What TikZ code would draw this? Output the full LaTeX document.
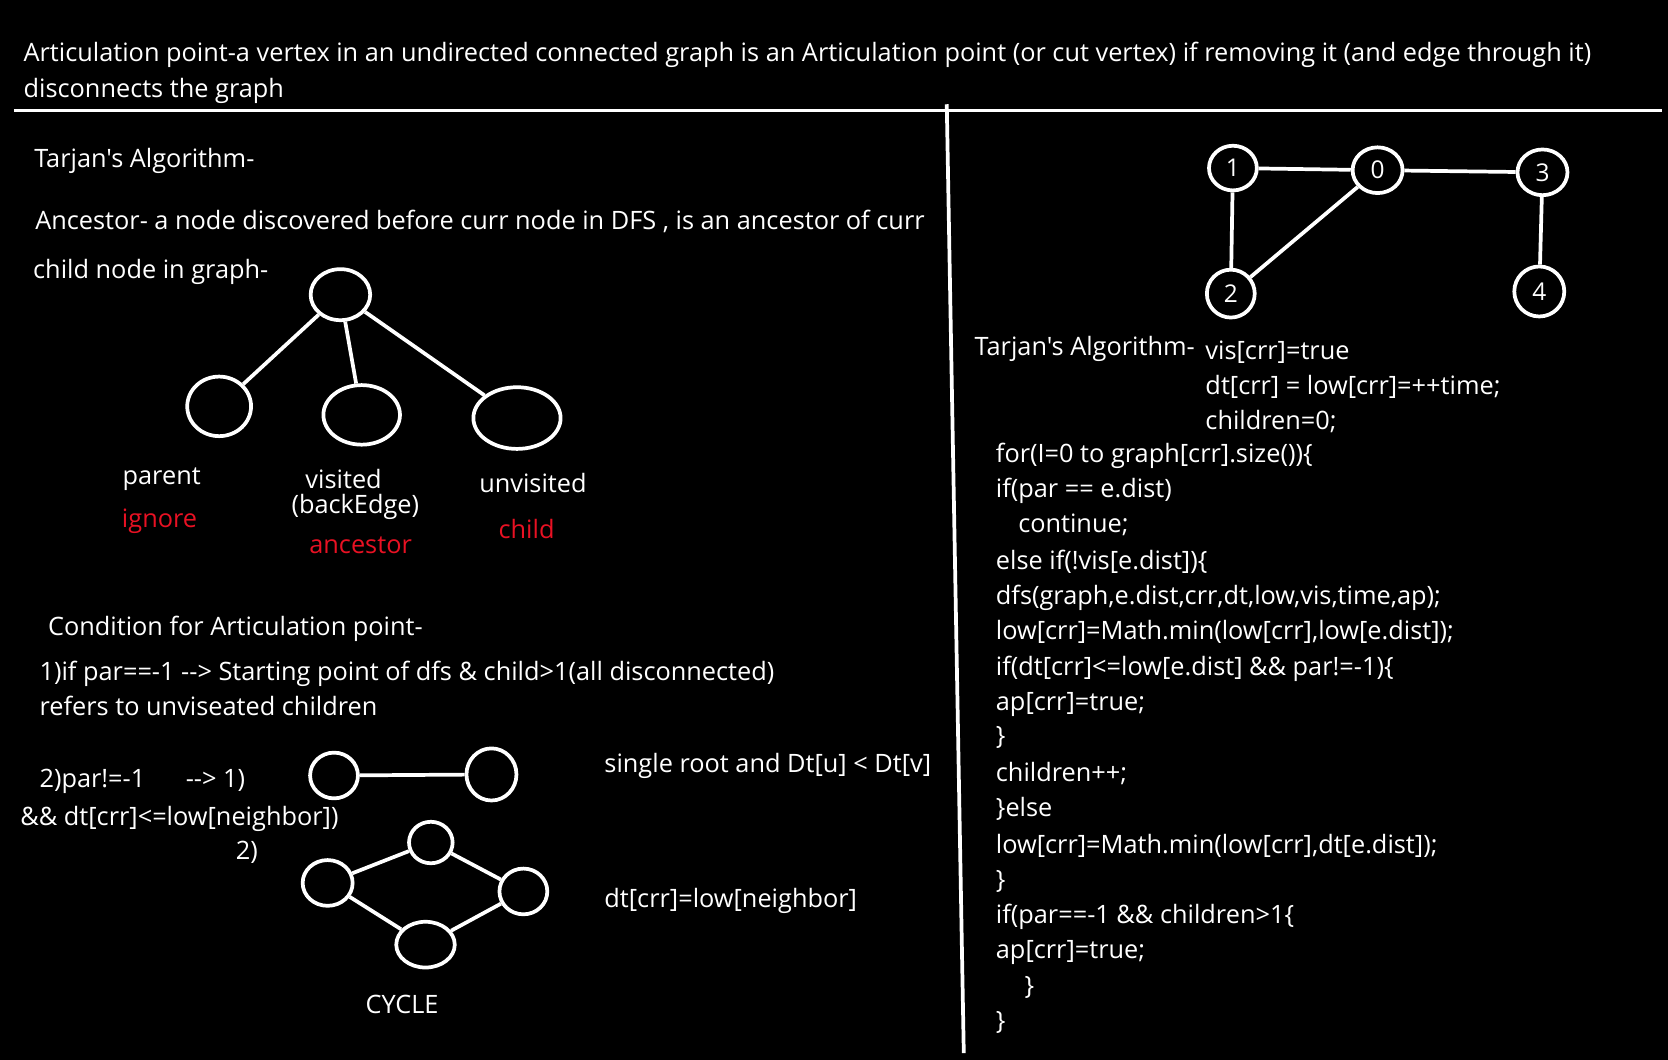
\documentclass[tikz,border=0pt]{standalone}
\usepackage{fontspec}
\setmainfont{Open Sans}[Ligatures=TeXOff]
\usetikzlibrary{shapes.geometric}
\definecolor{notered}{RGB}{232,17,35}

\begin{document}
\begin{tikzpicture}[x=1pt,y=-1pt,
	txt/.style={anchor=west,inner sep=0pt,text=white,font=\fontsize{23.8}{28}\selectfont,text height=0.3em,text depth=0.3em,yshift=-8pt},
	txtc/.style={txt,anchor=center},
	vtx/.style={draw=white,line width=3.5pt,ellipse,inner sep=0pt,text=white,font=\fontsize{23}{27}\selectfont},
	edge/.style={draw=white,line width=3.5pt}]
	\fill[black] (0,0) rectangle (1568,996);
	\useasboundingbox (0,0) rectangle (1568,996);
	
	% dividers
	\coordinate (hl) at (13,104);
	\coordinate (hr) at (1562,104);
	\coordinate (vt) at (890,98);
	\coordinate (vb) at (906,990);
	\draw[edge] (hl) -- (hr);
	\draw[edge] (vt) -- (vb);
	
	\node[txt] (title1) at (22,50) {Articulation point-a vertex in an undirected connected graph is an Articulation point (or cut vertex) if removing it (and edge through it)};
	\node[txt] (title2) at (22,84) {disconnects the graph};
	
	% left panel
	\node[txt] (tarjanL) at (32,149) {Tarjan's Algorithm-};
	\node[txt] (ancestor) at (33,208) {Ancestor- a node discovered before curr node in DFS , is an ancestor of curr};
	\node[txt] (childnode) at (31,254) {child node in graph-};
	
	\node[vtx,minimum width=56pt,minimum height=48pt] (root) at (320,277) {};
	\node[vtx,minimum width=60pt,minimum height=56pt] (par) at (206,382) {};
	\node[vtx,minimum width=72pt,minimum height=56pt] (vis) at (340,390) {};
	\node[vtx,minimum width=82pt,minimum height=58pt] (unvis) at (486,393) {};
	\draw[edge] (root) -- (par);
	\draw[edge] (root) -- (vis);
	\draw[edge] (root) -- (unvis);
	
	\node[txtc] (parent) at (152,447) {parent};
	\node[txtc,text=notered] (ignore) at (150,488) {ignore};
	\node[txtc] (visited) at (323,451) {visited};
	\node[txtc] (backedge) at (334,475) {(backEdge)};
	\node[txtc,text=notered] (anc) at (339,512) {ancestor};
	\node[txtc] (unvisited) at (501,455) {unvisited};
	\node[txtc,text=notered] (child) at (495,498) {child};
	
	\node[txt] (condhead) at (45,589) {Condition for Articulation point-};
	\node[txt] (cond1) at (37,632) {1)if par==-1 --> Starting point of dfs \& child>1(all disconnected)};
	\node[txt] (cond1b) at (37,665) {refers to unviseated children};
	\node[txt] (cond2) at (37,732) {2)par!=-1\hspace{38pt}--> 1)};
	\node[txt] (cond2b) at (19,768) {\&\& dt[crr]<=low[neighbor])};
	\node[txtc] (cond2c) at (232,800) {2)};
	
	\node[vtx,minimum width=45pt,minimum height=43pt] (sa) at (314,729) {};
	\node[vtx,minimum width=47pt,minimum height=49pt] (sb) at (462,728) {};
	\draw[edge] (sa) -- (sb);
	\node[txt] (single) at (568,718) {single root and Dt[u] < Dt[v]};
	
	\node[vtx,minimum width=41pt,minimum height=39pt] (ctop) at (405,792) {};
	\node[vtx,minimum width=47pt,minimum height=43pt] (cleft) at (308,830) {};
	\node[vtx,minimum width=45pt,minimum height=43pt] (cright) at (492,838) {};
	\node[vtx,minimum width=55pt,minimum height=43pt] (cbot) at (400,888) {};
	\draw[edge] (cleft) -- (ctop);
	\draw[edge] (ctop) -- (cright);
	\draw[edge] (cleft) -- (cbot);
	\draw[edge] (cbot) -- (cright);
	\node[txtc] (cycle) at (378,945) {CYCLE};
	\node[txt] (dteq) at (568,845) {dt[crr]=low[neighbor]};
	
	% right panel
	\node[vtx,minimum width=45pt,minimum height=42pt] (n1) at (1159,158) {1};
	\node[vtx,minimum width=47pt,minimum height=43pt] (n0) at (1295,160) {0};
	\node[vtx,minimum width=47pt,minimum height=43pt] (n3) at (1450,162) {3};
	\node[vtx,minimum width=45pt,minimum height=45pt] (n2) at (1157,276) {2};
	\node[vtx,minimum width=47pt,minimum height=47pt] (n4) at (1447,274) {4};
	\draw[edge] (n1) -- (n0);
	\draw[edge] (n0) -- (n3);
	\draw[edge] (n1) -- (n2);
	\draw[edge] (n0) -- (n2);
	\draw[edge] (n3) -- (n4);
	
	\node[txt] (tarjanR) at (916,326) {Tarjan's Algorithm-};
	\node[txt] (code1) at (1133,330) {vis[crr]=true};
	\node[txt] (code2) at (1133,363) {dt[crr] = low[crr]=++time;};
	\node[txt] (code3) at (1133,396) {children=0;};
	\node[txt] (code4) at (936,427) {for(I=0 to graph[crr].size())\{};
	\node[txt] (code5) at (936,460) {if(par == e.dist)};
	\node[txt] (code6) at (957,493) {continue;};
	\node[txt] (code7) at (936,527) {else if(!vis[e.dist])\{};
	\node[txt] (code8) at (936,560) {dfs(graph,e.dist,crr,dt,low,vis,time,ap);};
	\node[txt] (code9) at (936,593) {low[crr]=Math.min(low[crr],low[e.dist]);};
	\node[txt] (code10) at (936,627) {if(dt[crr]<=low[e.dist] \&\& par!=-1)\{};
	\node[txt] (code11) at (936,660) {ap[crr]=true;};
	\node[txt] (code12) at (936,692) {\}};
	\node[txt] (code13) at (936,727) {children++;};
	\node[txt] (code14) at (936,760) {\}else};
	\node[txt] (code15) at (936,794) {low[crr]=Math.min(low[crr],dt[e.dist]);};
	\node[txt] (code16) at (936,827) {\}};
	\node[txt] (code17) at (936,860) {if(par==-1 \&\& children>1\{};
	\node[txt] (code18) at (936,893) {ap[crr]=true;};
	\node[txt] (code19) at (963,927) {\}};
	\node[txt] (code20) at (936,960) {\}};
\end{tikzpicture}
\end{document}
